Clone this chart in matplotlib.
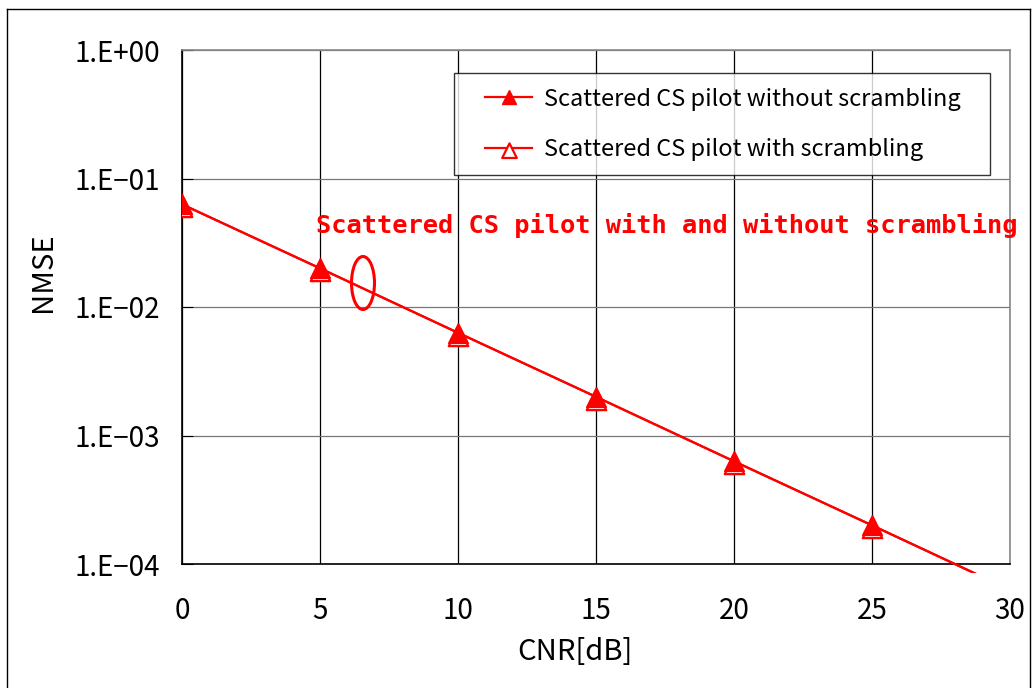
import matplotlib
matplotlib.use("Agg")
import matplotlib.pyplot as plt
from matplotlib.patches import Rectangle, Ellipse
from matplotlib.lines import Line2D
from matplotlib.path import Path
from matplotlib.legend_handler import HandlerLine2D

# data
cnr = [0, 5, 10, 15, 20, 25, 30]
nmse_without = [6.3e-2, 2.0e-2, 6.3e-3, 2.0e-3, 6.3e-4, 2.0e-4, 6.3e-5]
nmse_with = [6.3e-2, 2.0e-2, 6.3e-3, 2.0e-3, 6.3e-4, 2.0e-4, 6.3e-5]
x_ticks = [0, 5, 10, 15, 20, 25, 30]
y_ticks = [1e0, 1e-1, 1e-2, 1e-3, 1e-4]
y_labels = ["1.E+00", "1.E\u221201", "1.E\u221202", "1.E\u221203", "1.E\u221204"]
labels = ["Scattered CS pilot without scrambling", "Scattered CS pilot with scrambling"]
note = "Scattered CS pilot with and without scrambling"

plt.rcParams['font.family'] = ['Noto Sans CJK JP', 'DejaVu Sans']

W, H = 1035, 688
fig = plt.figure(figsize=(W / 100, H / 100), dpi=100)
fig.patch.set_facecolor("white")

# outer chart frame (bottom edge is cut off in the reference)
for seg in [((7, 7), (H - 9, -5)), ((7, 1030), (H - 9, H - 9)), ((1030, 1030), (H - 9, -5))]:
    fig.add_artist(Line2D([s / W for s in seg[0]], [s / H for s in seg[1]],
                          color="black", lw=1.0, transform=fig.transFigure))

left, right, top, bottom = 182, 1010, 50, 564
ax = fig.add_axes([left / W, 1 - bottom / H, (right - left) / W, (bottom - top) / H])
ax.set_yscale("log")
ax.set_xlim(0, 30)
ax.set_ylim(1e-4, 1)

# clip lines a few pixels below the plot area, like the original
clip = Rectangle((left / W, 1 - (bottom + 9) / H), (right - left) / W, (bottom + 9 - top) / H,
                 transform=fig.transFigure, facecolor="none", edgecolor="none")

# open triangle sits a little lower than the filled one in the original
d = 0.3
low_tri = Path([(0, 1 - d), (-1, -1 - d), (1, -1 - d), (0, 1 - d)],
               [Path.MOVETO, Path.LINETO, Path.LINETO, Path.CLOSEPOLY])

ms = 14
l2, = ax.plot(cnr, nmse_with, color="red", lw=1.6, marker=low_tri, markersize=ms * (1 + d),
              markerfacecolor="white", markeredgecolor="red", markeredgewidth=1.6, zorder=3)
l1, = ax.plot(cnr, nmse_without, color="red", lw=1.6, marker="^", markersize=ms,
              markerfacecolor="red", markeredgecolor="red", zorder=4)
for ln in (l1, l2):
    ln.set_clip_path(clip)

ax.set_xticks(x_ticks)
ax.set_yticks(y_ticks)
ax.set_yticklabels(y_labels)
ax.yaxis.set_minor_locator(matplotlib.ticker.NullLocator())
ax.tick_params(axis="x", length=0, pad=23, labelsize=20)
ax.tick_params(axis="y", direction="in", length=8, pad=16, labelsize=20)

ax.grid(axis="x", color="black", lw=0.9)
ax.grid(axis="y", color="#777777", lw=0.9)
ax.set_axisbelow(True)
for s in ("left", "bottom"):
    ax.spines[s].set_color("black")
    ax.spines[s].set_linewidth(1.2)
for s in ("top", "right"):
    ax.spines[s].set_color("#888888")
    ax.spines[s].set_linewidth(1.2)

fig.text(575 / W, 1 - 652 / H, "CNR[dB]", ha="center", va="center", fontsize=21)
fig.text(43 / W, 1 - 272 / H, "NMSE", ha="center", va="center", rotation=90, fontsize=21)

lx0 = (454 - left) / (right - left)
lx1 = (990 - left) / (right - left)
ly1 = 1 - (73 - top) / (bottom - top)
ly0 = 1 - (173 - top) / (bottom - top)
leg = ax.legend([l1, l2], labels, loc="upper left", mode="expand",
                bbox_to_anchor=(lx0, ly0, lx1 - lx0, ly1 - ly0),
                handler_map={Line2D: HandlerLine2D(xpad=0.68)},
                fontsize=17, frameon=True, fancybox=False, edgecolor="black",
                handlelength=2.7, handletextpad=0.5, labelspacing=1.15,
                borderpad=0.62, borderaxespad=0, markerscale=0.75)
leg.get_frame().set_linewidth(1.0)

ax.text((316 - left) / (right - left), 1 - (226 - top) / (bottom - top), note,
        transform=ax.transAxes, ha="left", va="center", color="red",
        fontsize=18.3, fontweight="bold", family="DejaVu Sans Mono", clip_on=False)

ax.add_patch(Ellipse(((363 - left) / (right - left), 1 - (283 - top) / (bottom - top)),
                     23 / (right - left), 53 / (bottom - top), transform=ax.transAxes,
                     facecolor="none", edgecolor="red", lw=2.2, zorder=5))

fig.savefig("out.png", dpi=100)
